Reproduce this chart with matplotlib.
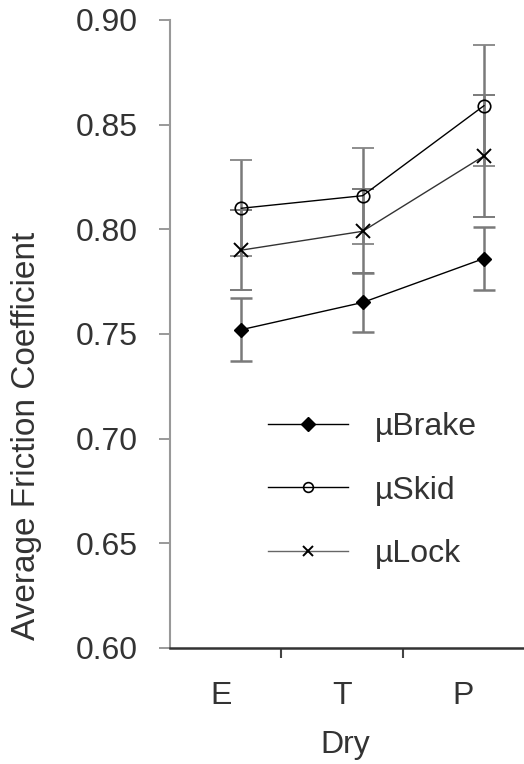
import matplotlib
matplotlib.use("Agg")
import matplotlib.pyplot as plt
from matplotlib.lines import Line2D
import numpy as np

plt.rcParams['font.family'] = ['Liberation Sans', 'DejaVu Sans']

# data
categories = ["E", "T", "P"]
brake = [0.752, 0.765, 0.786]
brake_err = [0.015, 0.014, 0.015]
skid = [0.810, 0.816, 0.859]
skid_err = [0.023, 0.023, 0.029]
lock = [0.790, 0.799, 0.835]
lock_err = [0.019, 0.020, 0.029]

x = np.arange(len(categories)) + 0.17
txt = "#333333"

fig = plt.figure(figsize=(5.24, 7.64), dpi=100)
ax = fig.add_axes([0.324, 0.152, 0.676, 0.822])

ekw = dict(ecolor="#7a7a7a", elinewidth=1.8, capsize=8, capthick=1.8)
ax.errorbar(x, brake, yerr=brake_err, color="black", lw=1.0, marker="D",
            ms=7, mfc="black", mec="black", **ekw)
ax.errorbar(x, skid, yerr=skid_err, color="black", lw=1.0, marker="o",
            ms=9, mfc="none", mec="black", mew=1.2, **ekw)
ax.errorbar(x, lock, yerr=lock_err, color="#333333", lw=1.0, marker="x",
            ms=10, mec="black", mew=1.4, **ekw)

ax.set_xlim(-0.42, 2.5)
ax.set_ylim(0.60, 0.90)
yt = np.arange(0.60, 0.901, 0.05)
ax.set_yticks(yt)
ax.set_yticklabels([f"{v:.2f}" for v in yt])

ax.set_xticks([0.5, 1.5])
ax.set_xticklabels([])
ax.set_xticks(np.arange(len(categories)), minor=True)
ax.set_xticklabels(categories, minor=True)
ax.tick_params(axis="x", which="minor", length=0, pad=24, labelsize=23, labelcolor=txt)
ax.tick_params(axis="x", which="major", length=7, width=1.5, direction="out", color="#444444")
ax.tick_params(axis="y", length=8, width=1.2, pad=15, labelsize=23,
               color="#888888", labelcolor=txt)

for s in ["top", "right"]:
    ax.spines[s].set_visible(False)
ax.spines["left"].set_color("#999999")
ax.spines["left"].set_linewidth(1.5)
ax.spines["bottom"].set_color("#333333")
ax.spines["bottom"].set_linewidth(1.8)

fig.text(27 / 524, 1 - 436 / 764, "Average Friction Coefficient", rotation=90,
         ha="center", va="center", fontsize=24, color=txt)
fig.text(345 / 524, 1 - 745 / 764, "Dry", ha="center", va="center",
         fontsize=23, color=txt)

handles = [
    Line2D([], [], color="black", lw=1.0, marker="D", ms=7, mfc="black", mec="black"),
    Line2D([], [], color="black", lw=1.0, marker="o", ms=7, mfc="none", mec="black", mew=1.2),
    Line2D([], [], color="#666666", lw=1.0, marker="x", ms=7, mec="black", mew=1.4),
]
leg = fig.legend(handles, ["\u00b5Brake", "\u00b5Skid", "\u00b5Lock"],
                 loc="upper left", bbox_to_anchor=(268 / 524, 1 - 412 / 764),
                 frameon=False, fontsize=23, handlelength=2.5, labelspacing=1.05,
                 handletextpad=0.85, borderpad=0, borderaxespad=0)
for t in leg.get_texts():
    t.set_color(txt)

fig.savefig("out.png", dpi=100)
